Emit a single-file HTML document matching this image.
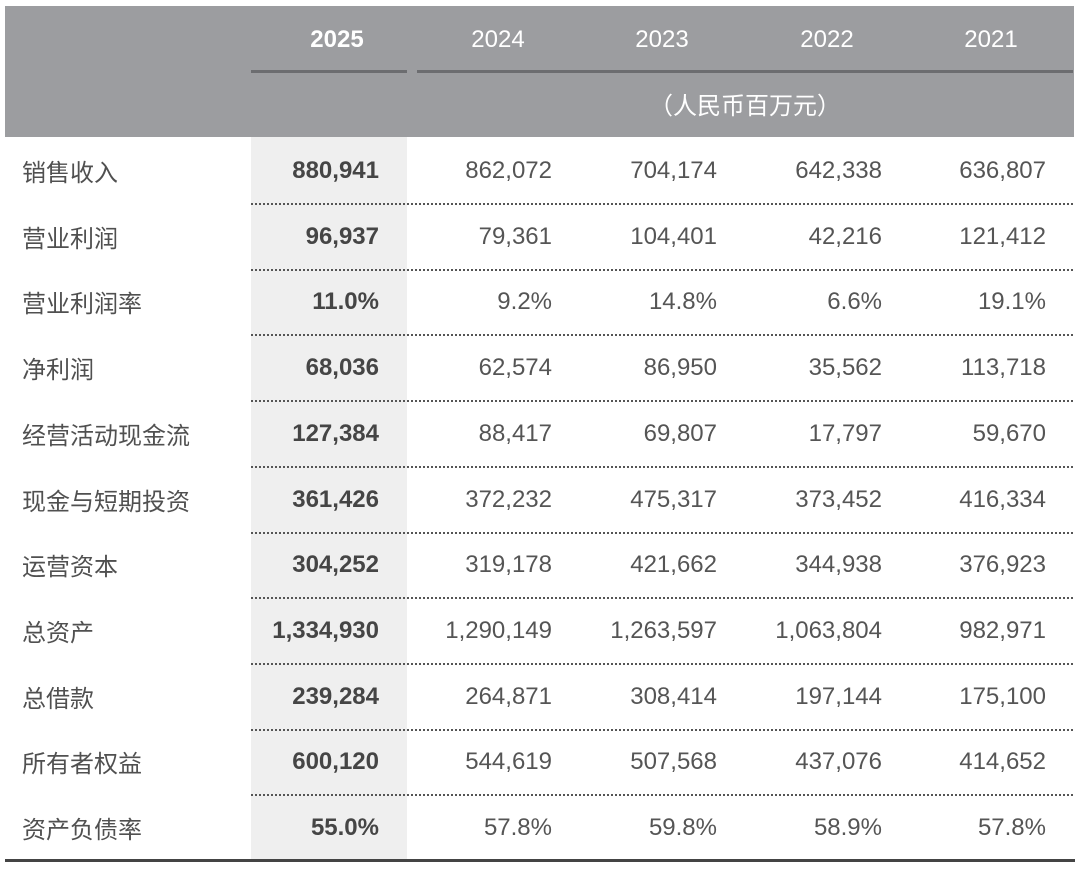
<!DOCTYPE html>
<html><head><meta charset="utf-8"><style>
body{margin:0;width:1080px;height:871px;background:#fff;position:relative;overflow:hidden;font-family:"Liberation Sans","Noto Sans CJK SC",sans-serif;}
.a{position:absolute}
.hdr{left:5px;top:6px;width:1069px;height:131px;background:#9c9da0}
.yr{top:24px;font-size:24px;color:#fff;width:120px;text-align:center;line-height:32px}
.sub{top:88px;left:417px;width:656px;text-align:center;font-size:24px;color:#fff;line-height:32px;font-family:"Noto Sans CJK SC",sans-serif}
.ul{top:70px;height:3px;background:#6c6d70}
.col25{left:251px;top:137px;width:156px;height:724px;background:#efefef}
.lab{left:22px;font-size:24px;color:#505050;line-height:32px;font-family:"Noto Sans CJK SC",sans-serif}
.n{font-size:24px;color:#555;line-height:32px;text-align:right;width:160px}
.b{font-weight:bold;color:#454545}
.dash{left:251px;width:822px;height:0;border-top:2px dotted #555}
</style></head><body>
<div class="a hdr"></div>
<div class="a col25"></div>
<div class="a yr" style="left:277px;font-weight:bold">2025</div>
<div class="a yr" style="left:438px">2024</div>
<div class="a yr" style="left:602px">2023</div>
<div class="a yr" style="left:767px">2022</div>
<div class="a yr" style="left:931px">2021</div>
<div class="a ul" style="left:251px;width:156px"></div>
<div class="a ul" style="left:417px;width:656px"></div>
<div class="a sub">（人民币百万元）</div>
<div class="a" style="left:5px;top:859px;width:1070px;height:3px;background:#444"></div>
<div id="rows"></div>
<script>
var d=[["销售收入","880,941","862,072","704,174","642,338","636,807"],
["营业利润","96,937","79,361","104,401","42,216","121,412"],
["营业利润率","11.0%","9.2%","14.8%","6.6%","19.1%"],
["净利润","68,036","62,574","86,950","35,562","113,718"],
["经营活动现金流","127,384","88,417","69,807","17,797","59,670"],
["现金与短期投资","361,426","372,232","475,317","373,452","416,334"],
["运营资本","304,252","319,178","421,662","344,938","376,923"],
["总资产","1,334,930","1,290,149","1,263,597","1,063,804","982,971"],
["总借款","239,284","264,871","308,414","197,144","175,100"],
["所有者权益","600,120","544,619","507,568","437,076","414,652"],
["资产负债率","55.0%","57.8%","59.8%","58.9%","57.8%"]];
var R=[379,552,717,882,1046],h="";
d.forEach(function(r,i){var c=171+65.7*i,t=c-16;
h+='<div class="a lab" style="top:'+t+'px">'+r[0]+'</div>';
for(var j=0;j<5;j++)h+='<div class="a n'+(j==0?' b':'')+'" style="top:'+t+'px;left:'+(R[j]-160)+'px">'+r[j+1]+'</div>';
if(i<10)h+='<div class="a dash" style="top:'+(c+32)+'px"></div>';});
document.getElementById("rows").innerHTML=h;
</script>
</body></html>
